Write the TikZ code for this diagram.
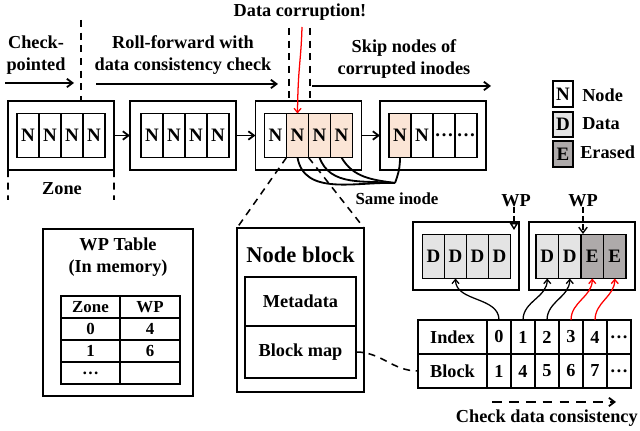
\documentclass[tikz,border=0pt]{standalone}
\usepackage{fontspec}
\setmainfont{Liberation Serif}
\usetikzlibrary{arrows.meta,positioning,calc}
\definecolor{corrupt}{HTML}{FBE5D6}
\definecolor{datagray}{HTML}{E4E4E4}
\definecolor{erasegray}{HTML}{AEAAAA}
\definecolor{redline}{HTML}{FF0000}
\tikzset{
  zonebox/.style={
    rectangle, draw, line width=1.3pt,
    minimum width=2.65cm, minimum height=1.725cm,
    inner sep=0pt, outer sep=0pt
  },
  cellbox/.style={
    rectangle, draw, line width=1.1pt, fill=#1,
    minimum width=0.55cm, minimum height=1.1cm,
    inner sep=0pt, outer sep=0pt, font=\cellfont
  },
  cellbox/.default=white,
  legendbox/.style={
    rectangle, draw, line width=1.3pt, fill=#1,
    minimum width=0.5cm, minimum height=0.64cm,
    inner sep=0pt, font=\cellfont
  },
  legendbox/.default=white,
  tabcell/.style={
    rectangle, draw, line width=1.1pt,
    minimum width=#1, minimum height=0.55cm,
    inner sep=0pt, outer sep=0pt, font=\smallfont
  },
  tabcell/.default=1.5cm,
  mapcell/.style={
    rectangle, draw, line width=1.1pt,
    minimum width=#1, minimum height=0.85cm,
    inner sep=0pt, outer sep=0pt, font=\mainfont
  },
  mapcell/.default=0.6cm,
  labelnode/.style={font=\mainfont, align=center, inner sep=0pt},
  flowarrow/.style={-{Straight Barb[length=4pt,width=6pt]}, line width=1.3pt},
  guideline/.style={dashed, line width=1.1pt, dash pattern=on 5pt off 4pt},
  mapptr/.style={-{Straight Barb[length=3pt,width=5pt]}, line width=0.9pt, color=#1},
  mapptr/.default=black,
}
\newcommand\mainfont{\bfseries\fontsize{13}{16}\selectfont}
\newcommand\cellfont{\bfseries\fontsize{13.5}{16}\selectfont}
\newcommand\smallfont{\bfseries\fontsize{12}{14}\selectfont}
\newcommand\titlefont{\bfseries\fontsize{16}{19}\selectfont}

\begin{document}
\begin{tikzpicture}[x=0.025cm, y=-0.025cm]
\useasboundingbox (0,0) rectangle (640,431);

% zones of node blocks
\node[zonebox] (z1) at (61,135.5) {};
\node[zonebox] (z2) at (183,135.5) {};
\node[zonebox] (z3) at (308.5,135.5) {};
\node[zonebox] (z4) at (433,135.5) {};

\node[cellbox] (z1c1) at (28,135.5) {N};
\foreach \i [count=\j from 2] in {1,2,3}
  \node[cellbox, right=0pt of z1c\i] (z1c\j) {N};
\node[cellbox] (z2c1) at (152,135.5) {N};
\foreach \i [count=\j from 2] in {1,2,3}
  \node[cellbox, right=0pt of z2c\i] (z2c\j) {N};
\node[cellbox] (z3c1) at (275.5,135.5) {N};
\foreach \i [count=\j from 2] in {1,2,3}
  \node[cellbox=corrupt, right=0pt of z3c\i] (z3c\j) {N};
\node[cellbox=corrupt] (z4c1) at (400,135.5) {N};
\node[cellbox, right=0pt of z4c1] (z4c2) {N};
\node[cellbox, right=0pt of z4c2] (z4c3) {\dots};
\node[cellbox, right=0pt of z4c3] (z4c4) {\dots};

\draw[flowarrow] (z1) -- (z2);
\draw[flowarrow] (z2) -- (z3);
\draw[flowarrow] (z3) -- (z4);

% phases on top
\node[labelnode] (ckpt) at (36,55) {Check-\\pointed};
\node[labelnode] (roll) at (183,55) {Roll-forward with\\data consistency check};
\node[labelnode] (skip) at (404,59) {Skip nodes of\\corrupted inodes};
\node[labelnode] (corr) at (300,12) {Data corruption!};

\coordinate (ckptA) at (5,83);
\coordinate (ckptB) at (74,83);
\coordinate (rollA) at (96,84);
\coordinate (rollB) at (278,84);
\coordinate (skipA) at (312,86);
\coordinate (skipB) at (491,86);
\draw[flowarrow] (ckptA) -- (ckptB);
\draw[flowarrow] (rollA) -- (rollB);
\draw[flowarrow] (skipA) -- (skipB);

\coordinate (ckline) at (81,20);
\draw[guideline] (ckline) -- (ckline |- z1.north);
\coordinate (corrL) at (289,28);
\coordinate (corrR) at (310,28);
\draw[guideline] (corrL) -- (corrL |- z3.north);
\draw[guideline] (corrR) -- (corrR |- z3.north);
\coordinate (redtop) at (302,27);
\draw[redline, line width=0.9pt, -{Straight Barb[length=3pt,width=5pt]}]
  (redtop) .. controls (301,62) and (298,66) .. (z3c2.north);

% zone brace
\coordinate (zoneL) at (8,200);
\coordinate (zoneR) at (114,200);
\draw[guideline] (z1.south west) -- (zoneL);
\draw[guideline] (z1.south east) -- (zoneR);
\node[labelnode] (zonelbl) at (62,189) {Zone};

% same inode
\coordinate (same) at (395,183);
\draw[line width=1.3pt] (z3c2.south) to[out=-80,in=178] (same);
\draw[line width=1.3pt] (z3c3.south) to[out=-70,in=175] (same);
\draw[line width=1.3pt] (z3c4.south) to[out=-60,in=172] (same);
\draw[line width=1.3pt] (z4c1.south) to[out=-90,in=70] (same);
\node[labelnode, font=\smallfont] (samelbl) at (397,199) {Same inode};

% legend
\node[legendbox] (legN) at (563,94) {N};
\node[legendbox=datagray] (legD) at (563,124.5) {D};
\node[legendbox=erasegray] (legE) at (563,154) {E};
\node[labelnode, anchor=west] at (582,95) {Node};
\node[labelnode, anchor=west] at (582,124) {Data};
\node[labelnode, anchor=west] at (580,152) {Erased};

% WP table
\node[zonebox, minimum width=3.75cm, minimum height=4.175cm] (wptab) at (118,312.5) {};
\node[labelnode] (wptitle) at (118,257) {WP Table\\(In memory)};
\node[tabcell=1.475cm] (t11) at (90.5,307) {Zone};
\node[tabcell, right=0pt of t11] (t12) {WP};
\node[tabcell=1.475cm, below=0pt of t11] (t21) {0};
\node[tabcell, right=0pt of t21] (t22) {4};
\node[tabcell=1.475cm, below=0pt of t21] (t31) {1};
\node[tabcell, right=0pt of t31] (t32) {6};
\node[tabcell=1.475cm, below=0pt of t31] (t41) {\dots};
\node[tabcell, right=0pt of t41] (t42) {};

% node block
\node[zonebox, minimum width=3.175cm, minimum height=4.1cm] (nb) at (300.5,310) {};
\node[labelnode, font=\titlefont] (nbtitle) at (300.5,255) {Node block};
\node[zonebox, line width=1.1pt, minimum width=2.775cm, minimum height=1.225cm, font=\mainfont] (meta) at (300.5,301.5) {Metadata};
\node[zonebox, line width=1.1pt, minimum width=2.775cm, minimum height=1.3cm, font=\mainfont, below=0pt of meta] (bmap) {Block map};
\draw[guideline] (z3c2.south west) -- (nb.north west);
\draw[guideline] (z3c2.south east) -- (nb.north east);

% data zones
\node[zonebox, minimum height=1.7cm] (dz1) at (466,256) {};
\node[zonebox, minimum height=1.7cm] (dz2) at (582,256) {};
\node[cellbox=datagray] (d1c1) at (433.5,256.5) {D};
\foreach \i [count=\j from 2] in {1,2,3}
  \node[cellbox=datagray, right=0pt of d1c\i] (d1c\j) {D};
\node[cellbox=datagray, minimum width=0.5625cm] (d2c1) at (547.25,256.5) {D};
\node[cellbox=datagray, minimum width=0.5625cm, right=0pt of d2c1] (d2c2) {D};
\node[cellbox=erasegray, minimum width=0.5625cm, right=0pt of d2c2] (d2c3) {E};
\node[cellbox=erasegray, minimum width=0.5625cm, right=0pt of d2c3] (d2c4) {E};

\node[labelnode] (wp1) at (516,201) {WP};
\node[labelnode] (wp2) at (583,201) {WP};
\coordinate (wp1tip) at (514,230);
\coordinate (wp2tip) at (583,234);
\draw[dashed, line width=1pt, dash pattern=on 4pt off 2pt, -{Triangle[open,length=5pt,width=6pt]}] (wp1.south -| wp1tip) -- (wp1tip);
\draw[dashed, line width=1pt, dash pattern=on 4pt off 2pt, -{Straight Barb[length=4pt,width=6pt]}] (wp2.south) -- (wp2tip);

% block map table
\node[mapcell=1.725cm] (idxh) at (452.5,337) {Index};
\node[mapcell=1.725cm, below=0pt of idxh] (blkh) {Block};
\node[mapcell, right=0pt of idxh] (i0) {0};
\node[mapcell, right=0pt of blkh] (b0) {1};
\foreach \i [count=\j from 1] in {0,1,2,3}
  \node[mapcell, right=0pt of i\i] (i\j) {\j};
\node[mapcell, right=0pt of i4] (i5) {\dots};
\foreach \i/\v [count=\j from 1] in {0/4,1/5,2/6,3/7}
  \node[mapcell, right=0pt of b\i] (b\j) {\v};
\node[mapcell, right=0pt of b4] (b5) {\dots};

\draw[mapptr] (i0.north) to[out=90,in=-90] (d1c2.south);
\draw[mapptr] (i1.north) to[out=90,in=-90] (d2c1.south);
\draw[mapptr] (i2.north) to[out=90,in=-90] (d2c2.south);
\draw[mapptr=redline] (i3.north) to[out=90,in=-90] (d2c3.south);
\draw[mapptr=redline] (i4.north) to[out=90,in=-90] (d2c4.south);

\draw[dashed, line width=1.1pt, dash pattern=on 5pt off 4pt] (bmap.east) to[out=0,in=180] (blkh.west);

% consistency check
\coordinate (chkA) at (492,402);
\coordinate (chkB) at (616,402);
\draw[dashed, line width=1.3pt, dash pattern=on 7pt off 5pt, -{Straight Barb[length=4pt,width=6pt]}] (chkA) -- (chkB);
\node[labelnode, anchor=east] (chklbl) at (638,418) {Check data consistency};
\end{tikzpicture}
\end{document}
